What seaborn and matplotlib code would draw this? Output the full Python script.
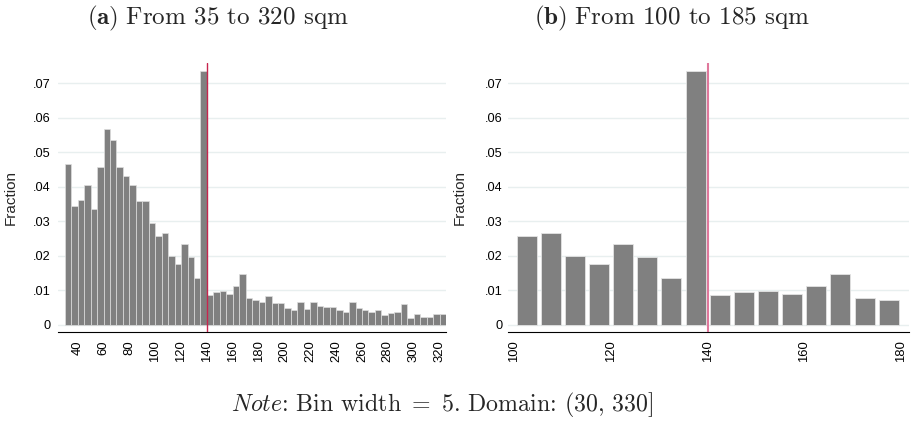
import matplotlib
matplotlib.use("Agg")
import matplotlib.pyplot as plt
from matplotlib.ticker import FixedLocator, FuncFormatter
import numpy as np
import pandas as pd
import seaborn as sns

# Histogram of dwelling size, 5 sqm bins starting at 30 sqm
bin_width = 5
bin_left = list(range(30, 325, bin_width))
fraction = [
    0.0466, 0.0345, 0.0362, 0.0406, 0.0336, 0.0457, 0.0568, 0.0534, 0.0457, 0.0432,
    0.0405, 0.0360, 0.0360, 0.0295, 0.0258, 0.0266, 0.0200, 0.0177, 0.0234, 0.0196,
    0.0136, 0.0736, 0.0087, 0.0096, 0.0098, 0.0090, 0.0113, 0.0147, 0.0078, 0.0072,
    0.0065, 0.0082, 0.0062, 0.0062, 0.0049, 0.0043, 0.0065, 0.0046, 0.0065, 0.0053,
    0.0050, 0.0050, 0.0042, 0.0037, 0.0065, 0.0049, 0.0044, 0.0037, 0.0044, 0.0027,
    0.0033, 0.0037, 0.0059, 0.0018, 0.0030, 0.0023, 0.0022, 0.0030, 0.0030,
]
threshold = 140

y_ticks = [0, 0.01, 0.02, 0.03, 0.04, 0.05, 0.06, 0.07]
left_xticks = list(range(40, 321, 20))
right_xticks = [100, 120, 140, 160, 180]
left_title = r"$\mathbf{(a)}\ \text{From 35 to 320 sqm}$"
right_title = r"$\mathbf{(b)}\ \text{From 100 to 185 sqm}$"
note_text = r"$\mathit{Note}\text{: Bin width}\ =\ 5\text{. Domain: }(30,\, 330]$"

df = pd.DataFrame({"left": bin_left, "fraction": fraction})
df["mid"] = df["left"] + bin_width / 2
zoom = df[(df["left"] >= 100) & (df["left"] < 180)]

sns.set_style("white")
plt.rcParams["font.family"] = ["Liberation Sans", "DejaVu Sans"]
plt.rcParams["mathtext.fontset"] = "cm"

W, H = 911, 423
fig = plt.figure(figsize=(W / 100, H / 100), dpi=100)


def frac_fmt(v, _):
    if abs(v) < 1e-9:
        return "0"
    return ("%.2f" % v).lstrip("0")


def style_axes(ax, xlim, xticks, ypad):
    ax.set_xlim(*xlim)
    ax.set_ylim(-0.00203, 0.07586)
    ax.yaxis.set_major_locator(FixedLocator(y_ticks))
    ax.yaxis.set_major_formatter(FuncFormatter(frac_fmt))
    ax.set_xticks(xticks)
    ax.set_xticklabels([str(t) for t in xticks], rotation=90)
    for s in ["left", "right", "top"]:
        ax.spines[s].set_visible(False)
    ax.spines["bottom"].set_color("black")
    ax.spines["bottom"].set_linewidth(0.8)
    ax.tick_params(axis="x", length=3.3, width=0.8, pad=3, labelsize=9.4, colors="black")
    ax.tick_params(axis="y", length=0, pad=ypad, labelsize=9.2, colors="black")
    ax.yaxis.grid(True, color="#E8EFEF", linewidth=1.0)
    ax.xaxis.grid(False)
    ax.set_axisbelow(True)
    ax.set_xlabel("")
    ax.set_ylabel("Fraction", fontsize=11)


def px_axes(x0, x1, y0, y1):
    return fig.add_axes([x0 / W, 1 - y1 / H, (x1 - x0) / W, (y1 - y0) / H])


# (a) full range
ax1 = px_axes(58.3, 446.0, 63.0, 331.7)
sns.histplot(data=df, x="mid", weights="fraction", binwidth=bin_width,
             binrange=(30, 325), color="#808080", edgecolor="#dedede",
             linewidth=0.5, alpha=1, ax=ax1)
ax1.axvline(threshold, color="#C7254E", linewidth=1.0, zorder=5)
style_axes(ax1, (25, 325), left_xticks, ypad=5.8)
ax1.yaxis.set_label_coords(-0.104, 0.5)

# (b) zoom around the threshold
ax2 = px_axes(507.7, 909.0, 63.0, 331.7)
sns.histplot(data=zoom, x="mid", weights="fraction", binwidth=bin_width,
             binrange=(100, 180), shrink=0.83, color="#808080", edgecolor="#e4e4e4",
             linewidth=0.6, alpha=1, ax=ax2)
ax2.axvline(threshold, color="#E0789C", linewidth=1.5, zorder=5)
style_axes(ax2, (98.6, 181.7), right_xticks, ypad=3.4)
ax2.yaxis.set_label_coords(-0.101, 0.5)

fig.text(218 / W, 1 - 18 / H, left_title, ha="center", va="center", fontsize=18)
fig.text(672 / W, 1 - 18 / H, right_title, ha="center", va="center", fontsize=18)
fig.text(442 / W, 1 - 404 / H, note_text, ha="center", va="center", fontsize=17.2)

fig.savefig("out.png", dpi=100)
